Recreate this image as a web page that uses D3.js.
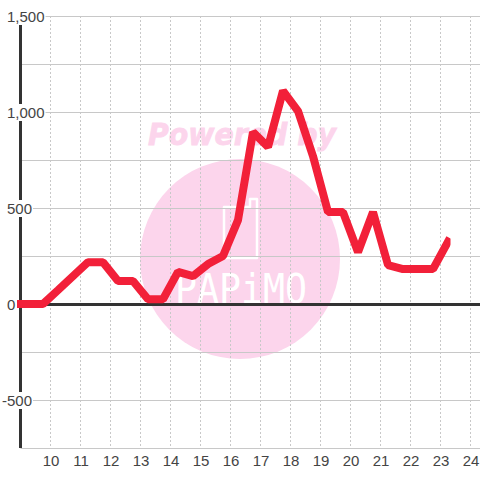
<!DOCTYPE html>
<html>
<head>
<meta charset="utf-8">
<script src="https://cdn.jsdelivr.net/npm/d3@7"></script>
<style>
html, body { margin: 0; padding: 0; background: #fff; }
svg { display: block; }
text { font-family: "Liberation Sans", Arial, sans-serif; }
</style>
</head>
<body>
<div id="chart"></div>
<script>
// half-hour readings, hour of day and value
var hours = [8.75, 9.25, 9.75, 10.25, 10.75, 11.25, 11.75, 12.25, 12.75, 13.25, 13.75, 14.25, 14.75, 15.25, 15.75,
             16.25, 16.75, 17.25, 17.75, 18.25, 18.75, 19.25, 19.75, 20.25, 20.75, 21.25, 21.75, 22.25, 22.75, 23.25];
var values = [0, 0, 0, 72, 145, 218, 218, 120, 120, 25, 25, 167, 145, 208, 250,
              437, 895, 818, 1110, 1005, 770, 479, 479, 270, 479, 203, 182, 182, 182, 325];
var xTicks = [10, 11, 12, 13, 14, 15, 16, 17, 18, 19, 20, 21, 22, 23, 24];
var yGrid = [-750, -500, -250, 0, 250, 500, 750, 1000, 1250, 1500];
var yLabels = [-500, 0, 500, 1000, 1500];

var width = 480, height = 480;

var x = d3.scaleLinear().domain([9, 24]).range([20.5, 470.5]);
var y = d3.scaleLinear().domain([-750, 1500]).range([448, 16]);

var svg = d3.select("#chart").append("svg")
    .attr("width", width)
    .attr("height", height);

// Watermark sits underneath everything else
var mark = svg.append("g").attr("class", "watermark");
mark.append("circle")
    .attr("cx", 240).attr("cy", 259).attr("r", 100)
    .attr("fill", "#fcd5ec");
mark.append("text")
    .attr("x", 242).attr("y", 145)
    .attr("text-anchor", "middle")
    .attr("font-size", 30)
    .attr("font-weight", "bold")
    .attr("font-style", "italic")
    .attr("fill", "#fcd5ec")
    .attr("stroke", "#fcd5ec")
    .attr("stroke-width", 0.8)
    .attr("textLength", 188)
    .attr("lengthAdjust", "spacingAndGlyphs")
    .style("font-family", "'DejaVu Sans'")
    .text("Powered by");
mark.append("path")
    .attr("d", "M224 207 h26 v-8 h7 v59 h-33 z")
    .attr("fill", "none")
    .attr("stroke", "#fff")
    .attr("stroke-width", 2.5)
    .attr("stroke-linejoin", "round");
mark.append("text")
    .attr("x", 241).attr("y", 303)
    .attr("text-anchor", "middle")
    .attr("font-size", 41)
    .attr("fill", "#fff")
    .attr("textLength", 132)
    .attr("lengthAdjust", "spacingAndGlyphs")
    .style("font-family", "'DejaVu Sans Mono'")
    .text("PAPiMO");

// Grid
svg.append("g").selectAll("line")
    .data(xTicks)
    .enter().append("line")
    .attr("x1", function(d) { return x(d); })
    .attr("x2", function(d) { return x(d); })
    .attr("y1", y(1500))
    .attr("y2", y(-750))
    .attr("stroke", "#c8c8c8")
    .attr("stroke-dasharray", "2,2");

svg.append("g").selectAll("line")
    .data(yGrid)
    .enter().append("line")
    .attr("x1", x(9))
    .attr("x2", width)
    .attr("y1", function(d) { return Math.round(y(d)) + 0.5; })
    .attr("y2", function(d) { return Math.round(y(d)) + 0.5; })
    .attr("stroke", "#c8c8c8");

// Axis lines
svg.append("line")
    .attr("x1", x(9)).attr("x2", x(9))
    .attr("y1", y(1500)).attr("y2", y(-750))
    .attr("stroke", "#333")
    .attr("stroke-width", 3);
svg.append("line")
    .attr("x1", x(9)).attr("x2", width)
    .attr("y1", y(0) + 0.5).attr("y2", y(0) + 0.5)
    .attr("stroke", "#333")
    .attr("stroke-width", 3);

// Labels get a white box so they knock out the axis and the grid.
// Digits start at the same x, the minus sign hangs to the left of it.
var yLabel = svg.append("g").selectAll("g")
    .data(yLabels)
    .enter().append("g")
    .attr("transform", function(d) { return "translate(" + (d < 0 ? 2 : 7) + "," + y(d) + ")"; });
yLabel.append("text")
    .attr("dy", 6)
    .attr("font-size", 15)
    .attr("fill", "#444")
    .text(function(d) { return d3.format(",")(d).replace("\u2212", "-"); })
    .each(function(d) {
        var box = this.getBBox();
        d3.select(this.parentNode).insert("rect", "text")
            .attr("x", box.x - 1)
            .attr("y", box.y)
            .attr("width", box.width + 2)
            .attr("height", box.height)
            .attr("fill", "#fff");
    });

svg.append("g").selectAll("text")
    .data(xTicks)
    .enter().append("text")
    .attr("x", function(d) { return x(d) + 0.5; })
    .attr("y", 466)
    .attr("text-anchor", "middle")
    .attr("font-size", 15)
    .attr("fill", "#444")
    .text(function(d) { return d; });

// Series, clipped at the plot edge and just after the last reading
svg.append("clipPath").attr("id", "plot")
    .append("rect")
    .attr("x", 17).attr("y", 0)
    .attr("width", 433.5).attr("height", height);

var line = d3.line()
    .x(function(d, i) { return x(hours[i]); })
    .y(function(d) { return y(d); });

svg.append("path")
    .datum(values)
    .attr("clip-path", "url(#plot)")
    .attr("d", line)
    .attr("fill", "none")
    .attr("stroke", "#f22039")
    .attr("stroke-width", 8)
    .attr("stroke-linejoin", "bevel")
    .attr("stroke-linecap", "square");
</script>
</body>
</html>
